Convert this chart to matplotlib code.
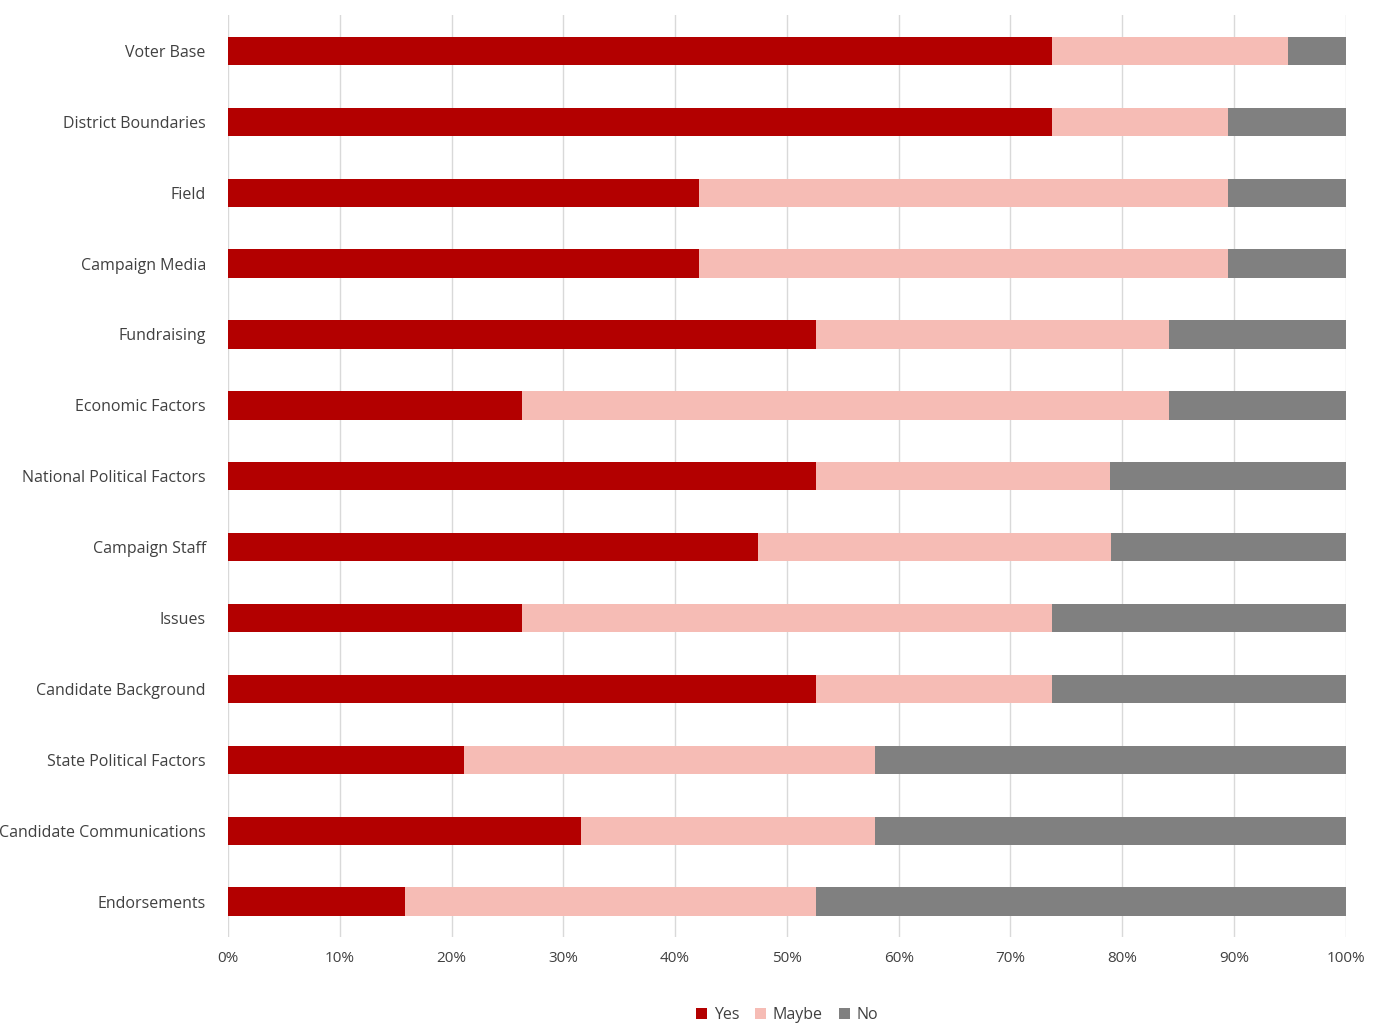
import matplotlib
matplotlib.use("Agg")
import matplotlib.pyplot as plt
import numpy as np
from matplotlib.ticker import PercentFormatter

categories = ["Voter Base", "District Boundaries", "Field", "Campaign Media", "Fundraising",
              "Economic Factors", "National Political Factors", "Campaign Staff", "Issues",
              "Candidate Background", "State Political Factors", "Candidate Communications",
              "Endorsements"]
yes = [73.7, 73.7, 42.1, 42.1, 52.6, 26.3, 52.6, 47.4, 26.3, 52.6, 21.1, 31.6, 15.8]
maybe = [21.1, 15.8, 47.4, 47.4, 31.6, 57.9, 26.3, 31.6, 47.4, 21.1, 36.8, 26.3, 36.8]
no = [5.3, 10.5, 10.5, 10.5, 15.8, 15.8, 21.1, 21.1, 26.3, 26.3, 42.1, 42.1, 47.4]

plt.rcParams['font.family'] = ['Open Sans', 'DejaVu Sans']
fig = plt.figure(figsize=(13.86, 10.32), dpi=100)
ax = fig.add_axes([0.1645, 0.092, 0.8065, 0.893])
y = np.arange(len(categories))
yes_a, maybe_a, no_a = map(np.array, (yes, maybe, no))
h = 0.4
ax.barh(y, yes_a, height=h, color="#B30000", label="Yes", zorder=3)
ax.barh(y, maybe_a, left=yes_a, height=h, color="#F6BCB5", label="Maybe", zorder=3)
ax.barh(y, no_a, left=yes_a + maybe_a, height=h, color="#808080", label="No", zorder=3)
ax.set_yticks(y)
ax.set_yticklabels(categories, fontsize=11.5, color="#404040")
ax.invert_yaxis()
ax.set_ylim(len(categories) - 0.5, -0.5)
ax.set_xlim(0, 100)
ax.set_xticks(np.arange(0, 101, 10))
ax.xaxis.set_major_formatter(PercentFormatter(decimals=0))
ax.tick_params(axis='x', labelsize=11, colors="#404040", length=0, pad=10)
ax.tick_params(axis='y', length=0, pad=16)
ax.grid(axis='x', color="#D9D9D9", linewidth=1, zorder=0)
for s in ax.spines.values():
    s.set_visible(False)
ax.legend(loc='upper center', bbox_to_anchor=(0.5, -0.06), ncol=3, frameon=False,
          fontsize=11.5, handlelength=0.7, handleheight=0.7, columnspacing=1.0,
          handletextpad=0.4, labelcolor="#404040")
fig.savefig("out.png", dpi=100)
